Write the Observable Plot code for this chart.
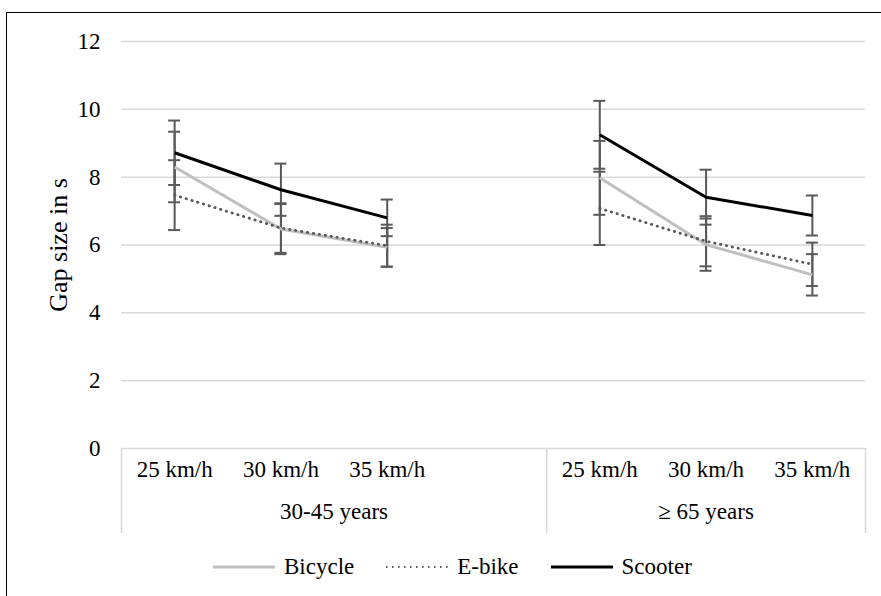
<!DOCTYPE html>
<html>
<head>
<meta charset="utf-8">
<script src="https://cdn.jsdelivr.net/npm/d3@7"></script>
<script src="https://cdn.jsdelivr.net/npm/@observablehq/plot@0.6"></script>
<style>
  body { margin: 0; background: #fff; }
  #wrap { position: relative; width: 881px; height: 596px; overflow: hidden; font-family: 'Liberation Serif'; }
  #frame { position: absolute; left: 6px; top: 12px; width: 900px; height: 600px; border-left: 1.5px solid #000; border-top: 1.5px solid #000; pointer-events: none; }
  #legend { position: absolute; left: 212px; top: 553px; height: 28px; display: flex; align-items: center; font-size: 23px; color: #000; font-family: 'Liberation Serif'; }
  #legend .item { display: flex; align-items: center; margin-right: 31px; }
  #legend svg { margin-right: 8px; }
</style>
</head>
<body>
<div id="wrap"></div>
<script>
// ---- data ----
const groups = ["30-45 years", "\u2265 65 years"];
const speeds = ["25 km/h", "30 km/h", "35 km/h"];
const seriesNames = ["Bicycle", "E-bike", "Scooter"];
// means (order: group 1 speeds, then group 2 speeds)
const bicycle = [8.30, 6.47, 5.93, 7.98, 6.01, 5.12];
const ebike   = [7.47, 6.50, 5.98, 7.08, 6.11, 5.43];
const scooter = [8.72, 7.63, 6.80, 9.25, 7.41, 6.87];
// error bar half-widths
const bicycleErr = [1.04, 0.74, 0.57, 1.09, 0.77, 0.61];
const ebikeErr   = [1.03, 0.73, 0.62, 1.08, 0.74, 0.64];
const scooterErr = [0.95, 0.77, 0.54, 1.00, 0.81, 0.59];
const yTicks = [0, 2, 4, 6, 8, 10, 12];

const FONT = "Liberation Serif";

// ---- build table ----
const slotsPerGroup = speeds.length + 1; // Excel leaves one empty slot between groups
const means = [bicycle, ebike, scooter];
const errs = [bicycleErr, ebikeErr, scooterErr];
const rows = [];
seriesNames.forEach((s, si) => {
  groups.forEach((g, gi) => {
    speeds.forEach((sp, k) => {
      const j = gi * speeds.length + k;
      rows.push({series: s, group: g, speed: sp, idx: gi * slotsPerGroup + k, value: means[si][j], err: errs[si][j]});
    });
  });
});
const catLabels = [];
groups.forEach((g, gi) => speeds.forEach((sp, k) => catLabels.push({idx: gi * slotsPerGroup + k, text: sp})));
const lastIdx = (groups.length - 1) * slotsPerGroup + speeds.length - 1;
const groupStarts = groups.map((g, gi) => gi * slotsPerGroup - 0.5);
const groupEnds = groups.map((g, gi) => gi === groups.length - 1 ? lastIdx + 0.5 : (gi + 1) * slotsPerGroup - 0.5);
const groupLabels = groups.map((g, gi) => ({text: g, x: (groupStarts[gi] + groupEnds[gi]) / 2}));
const separators = [...groupStarts, lastIdx + 0.5];

const styles = {
  "Bicycle": {stroke: "#bfbfbf", strokeWidth: 3, dash: null, cap: "butt"},
  "E-bike":  {stroke: "#595959", strokeWidth: 2.8, dash: "0.4 5.6", cap: "round"},
  "Scooter": {stroke: "#000000", strokeWidth: 3, dash: null, cap: "butt"}
};
const errColor = "#595959";

const lineMarks = seriesNames.map(s => Plot.lineY(rows.filter(r => r.series === s), {
  x: "idx", y: "value", z: "group",
  stroke: styles[s].stroke, strokeWidth: styles[s].strokeWidth,
  strokeDasharray: styles[s].dash || undefined,
  strokeLinecap: styles[s].cap
}));

const plot = Plot.plot({
  width: 881,
  height: 545,
  marginTop: 41,
  marginBottom: 97,
  marginLeft: 121,
  marginRight: 16,
  style: {fontFamily: FONT, fontSize: "23px", background: "transparent", color: "#000", overflow: "visible"},
  x: {type: "linear", domain: [-0.5, lastIdx + 0.5], axis: null},
  y: {domain: [0, 12], axis: null},
  marks: [
    Plot.gridY(yTicks, {stroke: "#d9d9d9", strokeOpacity: 1, strokeWidth: 1.5}),
    Plot.axisY(yTicks, {tickSize: 0, tickPadding: 21, label: null, fontSize: 23, tickFormat: d => String(d)}),
    Plot.ruleX(separators, {x: d => d, y1: () => 0, y2: () => 0, insetBottom: -85, stroke: "#d9d9d9", strokeWidth: 1.5}),
    Plot.text(catLabels, {x: "idx", text: "text", frameAnchor: "bottom", dy: 28, fontSize: 23}),
    Plot.text(groupLabels, {x: "x", text: "text", frameAnchor: "bottom", dy: 70, fontSize: 23}),
    Plot.text(["Gap size in s"], {frameAnchor: "left", textAnchor: "middle", dx: -63, rotate: -90, fontSize: 26}),
    Plot.ruleX(rows, {x: "idx", y1: d => d.value - d.err, y2: d => d.value + d.err, stroke: errColor, strokeWidth: 2}),
    Plot.ruleY(rows, {x1: "idx", x2: "idx", y: d => d.value + d.err, insetLeft: -6, insetRight: -6, stroke: errColor, strokeWidth: 2}),
    Plot.ruleY(rows, {x1: "idx", x2: "idx", y: d => d.value - d.err, insetLeft: -6, insetRight: -6, stroke: errColor, strokeWidth: 2}),
    ...lineMarks
  ]
});

d3.select(plot).selectAll("text").attr("font-family", FONT);

const wrap = document.getElementById("wrap");
plot.style.position = "absolute";
plot.style.left = "0px";
plot.style.top = "0px";
wrap.appendChild(plot);

// legend
const legend = document.createElement("div");
legend.id = "legend";
seriesNames.forEach(s => {
  const item = document.createElement("div");
  item.className = "item";
  const st = styles[s];
  item.innerHTML = `<svg width="64" height="10"><line x1="1" x2="63" y1="5" y2="5" stroke="${st.stroke}" stroke-width="${st.dash ? 2 : st.strokeWidth}" ${st.dash ? 'stroke-dasharray="1.5 4.5"' : ''}/></svg><span>${s}</span>`;
  legend.appendChild(item);
});
wrap.appendChild(legend);

const frame = document.createElement("div");
frame.id = "frame";
wrap.appendChild(frame);
</script>
</body>
</html>
